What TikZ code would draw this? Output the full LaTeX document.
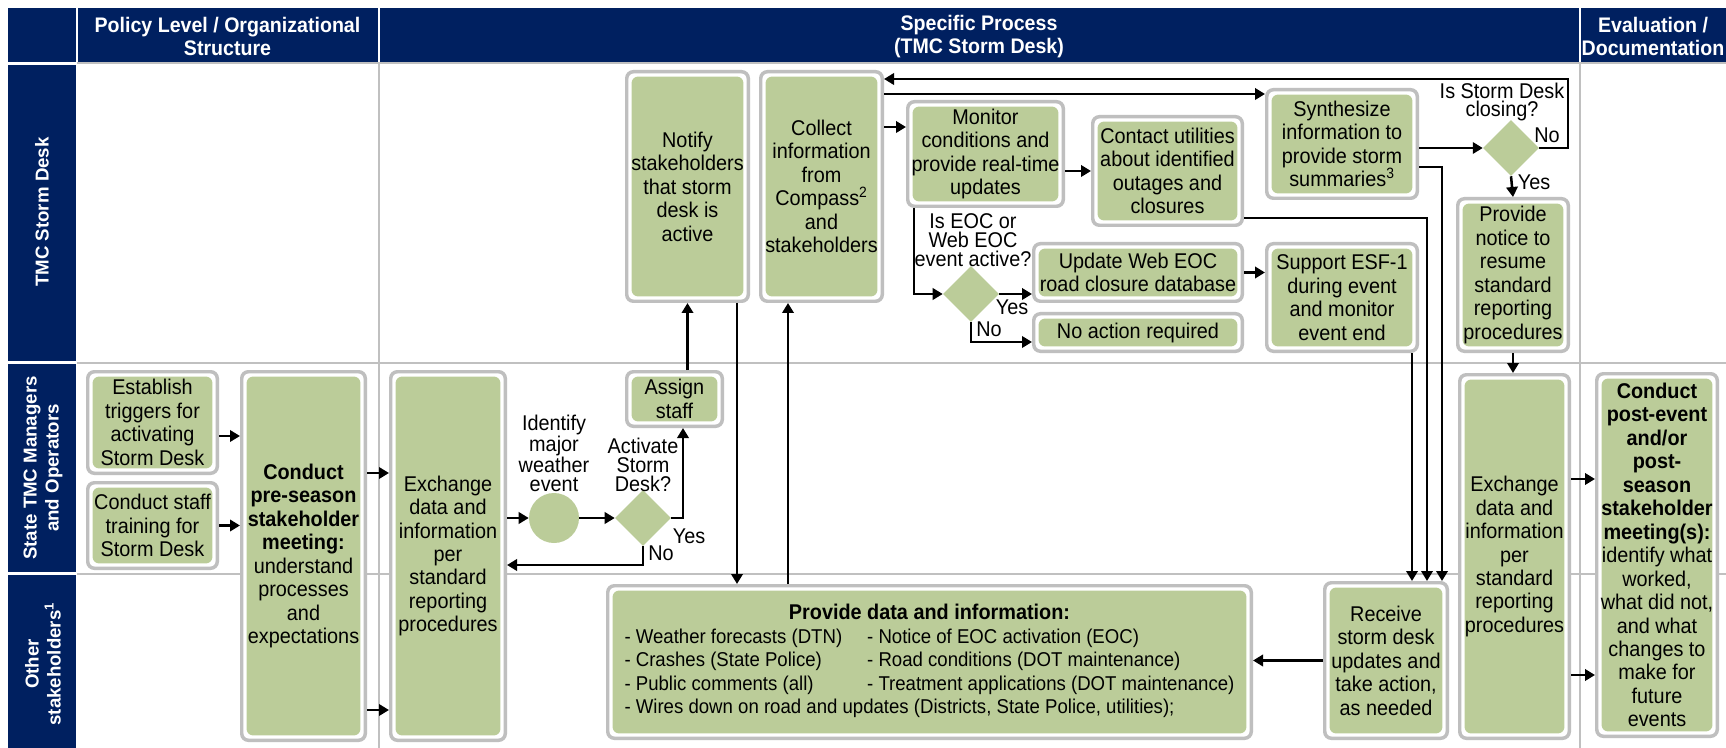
\documentclass[tikz,border=0pt]{standalone}
\usepackage{fontspec}
\setmainfont{Liberation Sans}[FakeStretch=0.93]
\newfontfamily\rowfont{Liberation Sans}
\usetikzlibrary{shapes.geometric,arrows.meta}
\definecolor{navy}{RGB}{0,32,96}
\definecolor{boxgreen}{RGB}{187,204,153}
\definecolor{boxgray}{RGB}{191,191,191}
\definecolor{gridgray}{RGB}{192,192,192}
\tikzset{
  gbox/.style={draw=boxgray, line width=2.6pt, rounded corners=5pt, fill=white, inner sep=0pt, align=center,
    path picture={\fill[boxgreen] ([shift={(3.6pt,3.6pt)}]path picture bounding box.south west) rectangle ([shift={(-3.6pt,-3.6pt)}]path picture bounding box.north east);}},
  dia/.style={diamond, fill=boxgreen, draw=none, minimum width=42pt, minimum height=42pt, inner sep=0pt},
  arr/.style={draw=black, line width=1.9pt, -{Triangle[length=7.5pt,width=8.5pt]}},
  lbl/.style={inner sep=0pt, align=center, font=\fontsize{16}{14}\selectfont},
  hdr/.style={text=white, font=\bfseries\fontsize{15.8}{17}\selectfont, align=center, inner sep=0pt},
  rowlbl/.style={text=white, font=\rowfont\bfseries\fontsize{14}{16.5}\selectfont, align=center, rotate=90, inner sep=0pt},
  gridline/.style={draw=gridgray, line width=1.5pt},
}
\newcommand\gb[6]{%
  \pgfmathsetlengthmacro\gbw{(#4-#2)*0.75pt-2.6pt}%
  \pgfmathsetlengthmacro\gbh{(#5-#3)*0.75pt-2.6pt}%
  \node[gbox, minimum width=\gbw, minimum height=\gbh] (#1) at ({(#2+#4)/2},{(#3+#5)/2}) {#6};}
\begin{document}
\begin{tikzpicture}[x=0.75pt,y=-0.75pt,font=\fontsize{16}{17.6}\selectfont]
\useasboundingbox (0,0) rectangle (1726,748);
\fill[white] (0,0) rectangle (1726,748);
% header
\fill[navy] (8,8) rectangle (1726,62);
\draw[white, line width=1.5pt] (76.5,8) -- (76.5,62) (379,8) -- (379,62) (1580,8) -- (1580,62);
\fill[navy] (8,65) rectangle (76,361);
\fill[navy] (8,364) rectangle (76,572);
\fill[navy] (8,575) rectangle (76,748);
% grid
\draw[gridline] (77,63.5) -- (1726,63.5);
\draw[gridline] (77,362.5) -- (1726,362.5);
\draw[gridline] (77,573.5) -- (1726,573.5);
\draw[gridline] (379,63) -- (379,748);
\draw[gridline] (1580,63) -- (1580,748);
% header texts
\node[hdr] (h1) at (227.5,36.5) {Policy Level / Organizational\\Structure};
\node[hdr] (h2) at (979,36.5) {Specific Process\\(TMC Storm Desk)};
\node[hdr] (h3) at (1653,36.5) {Evaluation /\\Documentation};
\node[rowlbl] (r1) at (42,212) {TMC Storm Desk};
\node[rowlbl] (r2) at (43,468) {State TMC Managers\\and Operators};
\node[rowlbl] (r3) at (43,664) {Other\\stakeholders\textsuperscript{1}};
% row 1 boxes
\gb{notify}{625}{70}{750}{303}{Notify\\stakeholders\\that storm\\desk is\\active}
\gb{collect}{759}{70}{884}{303}{Collect\\information\\from\\Compass\textsuperscript{2}\\and\\stakeholders}
\gb{monitor}{906}{100}{1065}{208}{Monitor\\conditions and\\provide real-time\\updates}
\gb{contact}{1091}{115}{1244}{227}{Contact utilities\\about identified\\outages and\\closures}
\gb{update}{1032}{242}{1244}{303}{Update Web EOC\\road closure database}
\gb{noaction}{1032}{312}{1244}{353}{No action required}
\gb{synth}{1265}{88}{1419}{200}{Synthesize\\information to\\provide storm\\summaries\textsuperscript{3}}
\gb{support}{1265}{242}{1419}{353}{Support ESF-1\\during event\\and monitor\\event end}
\gb{notice}{1456}{197}{1570}{353}{Provide\\notice to\\resume\\standard\\reporting\\procedures}
\node[dia] (eocd) at (971,294) {};
\node[dia] (closed) at (1511,148) {};
\node[lbl] (leoc) at (973,240) {Is EOC or\\Web EOC\\event active?};
\node[lbl] (lclose) at (1502,102) {Is Storm Desk\\closing?};
\node[lbl] (eyes) at (1012,307) {Yes};
\node[lbl] (eno) at (989,329) {No};
\node[lbl] (cno) at (1547,135) {No};
\node[lbl] (cyes) at (1534,182) {Yes};
% row 2
\gb{establish}{86}{370}{219}{475}{Establish\\triggers for\\activating\\Storm Desk}
\gb{training}{86}{481}{219}{570}{Conduct staff\\training for\\Storm Desk}
\gb{preseason}{240}{370}{367}{742}{\textbf{Conduct}\\\textbf{pre-season}\\\textbf{stakeholder}\\\textbf{meeting:}\\understand\\processes\\and\\expectations}
\gb{exch1}{389}{370}{507}{742}{Exchange\\data and\\information\\per\\standard\\reporting\\procedures}
\node[circle, fill=boxgreen, minimum size=37.5pt, inner sep=0pt] (event) at (554,518) {};
\node[dia] (actd) at (643,518) {};
\node[lbl] (lidentify) at (554,453) {Identify\\major\\weather\\event};
\node[lbl] (lactivate) at (643,465) {Activate\\Storm\\Desk?};
\node[lbl] (ayes) at (689,536) {Yes};
\node[lbl] (ano) at (661,553) {No};
\gb{assign}{625}{370}{724}{428}{Assign\\staff}
\gb{exch2}{1458}{373}{1571}{740}{Exchange\\data and\\information\\per\\standard\\reporting\\procedures}
\gb{post}{1595}{372}{1719}{738}{\textbf{Conduct}\\\textbf{post-event}\\\textbf{and/or}\\\textbf{post-}\\\textbf{season}\\\textbf{stakeholder}\\\textbf{meeting(s):}\\identify what\\worked,\\what did not,\\and what\\changes to\\make for\\future\\events}
% row 3
\gb{provide}{606}{584}{1253}{740}{%
 \begin{tabular}{@{}l@{}l@{}}
 \multicolumn{2}{c}{\textbf{Provide data and information:}}\\
 \fontsize{15}{17.6}\selectfont\makebox[182pt][l]{- Weather forecasts (DTN)} & \fontsize{15}{17.6}\selectfont - Notice of EOC activation (EOC)\\
 \fontsize{15}{17.6}\selectfont\makebox[182pt][l]{- Crashes (State Police)} & \fontsize{15}{17.6}\selectfont - Road conditions (DOT maintenance)\\
 \fontsize{15}{17.6}\selectfont\makebox[182pt][l]{- Public comments (all)} & \fontsize{15}{17.6}\selectfont - Treatment applications (DOT maintenance)\\
 \multicolumn{2}{@{}l@{}}{\fontsize{15}{17.6}\selectfont - Wires down on road and updates (Districts, State Police, utilities);}
 \end{tabular}}
\gb{receive}{1323}{581}{1449}{740}{Receive\\storm desk\\updates and\\take action,\\as needed}
% connectors
\draw[arr] (establish.east |- 0,436) -- (preseason.west |- 0,436);
\draw[arr] (training.east) -- (training.east -| preseason.west);
\draw[arr] (preseason.east |- 0,473) -- (exch1.west |- 0,473);
\draw[arr] (preseason.east |- 0,710) -- (exch1.west |- 0,710);
\draw[arr] (exch1.east |- event.west) -- (event.west);
\draw[arr] (event.east) -- (actd.west);
\draw[arr] (actd.east) -| (assign.south -| 683,0);
\draw[arr] (actd.south) |- (exch1.east |- 0,565);
\draw[arr] (notify.south |- assign.north) -- (notify.south);
\draw[arr] (notify.south -| 737,0) -- (provide.north -| 737,0);
\draw[arr] (provide.north -| 788,0) -- (collect.south -| 788,0);
\draw[arr] (collect.east |- 0,127) -- (monitor.west |- 0,127);
\draw[arr] (monitor.east |- contact.west) -- (contact.west);
\draw[arr] (collect.east |- 0,94) -- (synth.west |- 0,94);
\draw[arr] (synth.east |- closed.west) -- (closed.west);
\draw[arr] (closed.east) -| (1568,79) -- (collect.east |- 0,79);
\draw[arr] (closed.south) -- (notice.north);
\draw[arr] (notice.south) -- (notice.south |- exch2.north);
\draw[arr] (monitor.south -| 914,0) |- (eocd.west);
\draw[arr] (eocd.east) -- (eocd.east -| update.west);
\draw[arr] (eocd.south) |- (noaction.west |- 0,342);
\draw[arr] (update.east) -- (update.east -| support.west);
\draw[arr] (support.south -| 1412,0) -- (receive.north -| 1412,0);
\draw[arr] (contact.east |- 0,218) -| (receive.north -| 1427,0);
\draw[arr] (synth.east |- 0,167) -| (receive.north -| 1442,0);
\draw[arr] (receive.west) -- (receive.west -| provide.east);
\draw[arr] (exch2.east |- 0,479) -- (post.west |- 0,479);
\draw[arr] (exch2.east |- 0,675) -- (post.west |- 0,675);
\end{tikzpicture}
\end{document}
